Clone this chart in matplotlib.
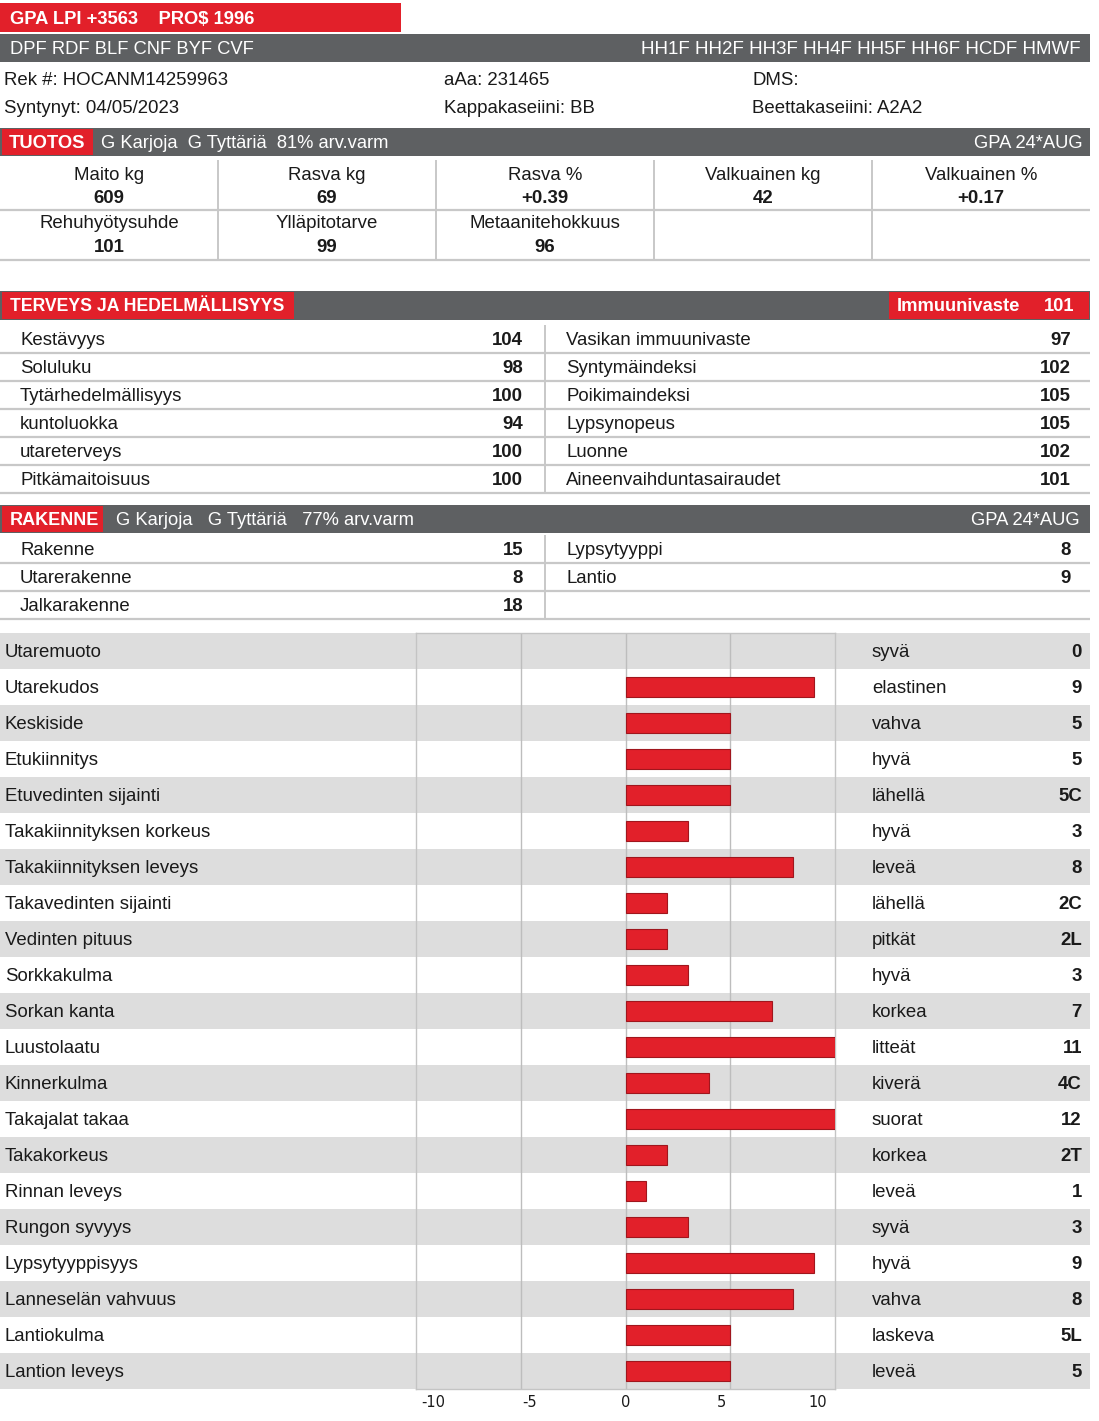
import matplotlib.pyplot as plt
from matplotlib.patches import Rectangle

plt.rcParams['font.family'] = ['Liberation Sans', 'DejaVu Sans']

RED = "#e2202a"
GREY = "#5e6062"
BAND = "#dddddd"
LINE = "#c8c8c8"
INK = "#1a1a1a"

# --- data read from the sheet ---
top_title = "GPA LPI +3563    PRO$ 1996"
haplo_left = "DPF RDF BLF CNF BYF CVF"
haplo_right = "HH1F HH2F HH3F HH4F HH5F HH6F HCDF HMWF"
id_row1 = ["Rek #: HOCANM14259963", "aAa: 231465", "DMS:"]
id_row2 = ["Syntynyt: 04/05/2023", "Kappakaseiini: BB", "Beettakaseiini: A2A2"]

prod_head = "G Karjoja  G Tyttäriä  81% arv.varm"
type_head = "G Karjoja   G Tyttäriä   77% arv.varm"
run_date = "GPA 24*AUG"

prod_labels1 = ["Maito kg", "Rasva kg", "Rasva %", "Valkuainen kg", "Valkuainen %"]
prod_values1 = ["609", "69", "+0.39", "42", "+0.17"]
prod_labels2 = ["Rehuhyötysuhde", "Ylläpitotarve", "Metaanitehokkuus", "", ""]
prod_values2 = ["101", "99", "96", "", ""]

health_left = ["Kestävyys", "Soluluku", "Tytärhedelmällisyys", "kuntoluokka",
               "utareterveys", "Pitkämaitoisuus"]
health_left_vals = [104, 98, 100, 94, 100, 100]
health_right = ["Vasikan immuunivaste", "Syntymäindeksi", "Poikimaindeksi",
                "Lypsynopeus", "Luonne", "Aineenvaihduntasairaudet"]
health_right_vals = [97, 102, 105, 105, 102, 101]
immune_total = 101

type_left = ["Rakenne", "Utarerakenne", "Jalkarakenne"]
type_left_vals = [15, 8, 18]
type_right = ["Lypsytyyppi", "Lantio"]
type_right_vals = [8, 9]

traits = ["Utaremuoto", "Utarekudos", "Keskiside", "Etukiinnitys",
          "Etuvedinten sijainti", "Takakiinnityksen korkeus",
          "Takakiinnityksen leveys", "Takavedinten sijainti", "Vedinten pituus",
          "Sorkkakulma", "Sorkan kanta", "Luustolaatu", "Kinnerkulma",
          "Takajalat takaa", "Takakorkeus", "Rinnan leveys", "Rungon syvyys",
          "Lypsytyyppisyys", "Lanneselän vahvuus", "Lantiokulma", "Lantion leveys"]
trait_values = [0, 9, 5, 5, 5, 3, 8, 2, 2, 3, 7, 11, 4, 12, 2, 1, 3, 9, 8, 5, 5]
trait_desc = ["syvä", "elastinen", "vahva", "hyvä", "lähellä", "hyvä", "leveä",
              "lähellä", "pitkät", "hyvä", "korkea", "litteät", "kiverä", "suorat",
              "korkea", "leveä", "syvä", "hyvä", "vahva", "laskeva", "leveä"]
trait_codes = ["0", "9", "5", "5", "5C", "3", "8", "2C", "2L", "3", "7", "11",
               "4C", "12", "2T", "1", "3", "9", "8", "5L", "5"]
ticks = [-10, -5, 0, 5, 10]

FS = 13.4
DY = 2.5  # matplotlib centres on the full text box, nudge down to the row middle

fig = plt.figure(figsize=(10.99, 14.21), dpi=100)
bg = fig.add_axes([0, 0, 1, 1])
bg.set_xlim(0, 1099)
bg.set_ylim(1421, 0)
bg.axis("off")


def box(x, y, w, h, c):
    bg.add_patch(Rectangle((x, y), w, h, facecolor=c, edgecolor="none"))


def txt(x, y, s, **kw):
    kw.setdefault("color", INK)
    kw.setdefault("fontsize", FS)
    bg.text(x, y + DY, s, va="center", **kw)


def hline(y, x0=0, x1=1090):
    bg.plot([x0, x1], [y, y], color=LINE, lw=1.6, solid_capstyle="butt")


def vline(x, y0, y1):
    bg.plot([x, x], [y0, y1], color=LINE, lw=1.4, solid_capstyle="butt")


# top banner
box(0, 3, 401, 29, RED)
txt(10, 17, top_title, color="white", fontsize=13.2, fontweight="bold")
box(0, 34, 1090, 28, GREY)
txt(10, 47, haplo_left, color="white", fontsize=13.2)
txt(1081, 47, haplo_right, color="white", fontsize=13.5, ha="right")

for x, t in zip([4, 444, 752], id_row1):
    txt(x, 78, t)
for x, t in zip([4, 444, 752], id_row2):
    txt(x, 106, t)

# TUOTOS
box(0, 128, 1090, 28, GREY)
box(2, 129, 91, 26, RED)
txt(9, 141, "TUOTOS", color="white", fontsize=13.2, fontweight="bold")
txt(101, 141, prod_head, color="white", fontsize=13.2)
txt(1083, 141, run_date, color="white", fontsize=13.2, ha="right")

for i in range(5):
    cx = 109 + 218 * i
    txt(cx, 173, prod_labels1[i], ha="center")
    txt(cx, 196, prod_values1[i], ha="center", fontweight="bold")
    txt(cx, 221, prod_labels2[i], ha="center")
    txt(cx, 245, prod_values2[i], ha="center", fontweight="bold")
    if i > 0:
        vline(218 * i, 160, 259)
hline(210)
hline(260)

# TERVEYS
box(0, 291, 1090, 29, GREY)
box(2, 292, 292, 27, RED)
txt(10, 304, "TERVEYS JA HEDELMÄLLISYYS", color="white", fontsize=12.7, fontweight="bold")
box(889, 292, 200, 27, RED)
txt(897, 304, "Immuunivaste", color="white", fontsize=13.2, fontweight="bold")
txt(1074, 304, str(immune_total), color="white", fontsize=13.2, fontweight="bold", ha="right")

for i in range(len(health_left)):
    y = 338 + 28 * i
    txt(20, y, health_left[i])
    txt(523, y, str(health_left_vals[i]), ha="right", fontweight="bold")
    txt(566, y, health_right[i])
    txt(1071, y, str(health_right_vals[i]), ha="right", fontweight="bold")
    hline(353 + 28 * i)
vline(545, 325, 492)

# RAKENNE
box(0, 505, 1090, 28, GREY)
box(2, 506, 101, 26, RED)
txt(10, 518, "RAKENNE", color="white", fontsize=13, fontweight="bold")
txt(116, 518, type_head, color="white", fontsize=13.2)
txt(1080, 518, run_date, color="white", fontsize=13.2, ha="right")

for i in range(len(type_left)):
    y = 548 + 28 * i
    txt(20, y, type_left[i])
    txt(523, y, str(type_left_vals[i]), ha="right", fontweight="bold")
    if i < len(type_right):
        txt(566, y, type_right[i])
        txt(1071, y, str(type_right_vals[i]), ha="right", fontweight="bold")
    hline(563 + 28 * i)
vline(545, 535, 618)

# linear traits table
row_top, row_h = 633, 36
n = len(traits)
for i in range(n):
    y0 = row_top + row_h * i
    if i % 2 == 0:
        box(0, y0, 1090, row_h, BAND)
    yc = y0 + row_h / 2 - 1
    txt(5, yc, traits[i])
    txt(872, yc, trait_desc[i])
    txt(1082, yc, trait_codes[i], ha="right", fontweight="bold")

# bar chart on top of the bands
bottom = row_top + row_h * n
ax = fig.add_axes([416 / 1099, 1 - bottom / 1421, 419 / 1099, row_h * n / 1421])
ax.patch.set_alpha(0)
ax.barh(range(n), trait_values, height=0.54, color=RED, edgecolor="#a0161d",
        linewidth=[0.8 if v else 0 for v in trait_values], zorder=3)
ax.set_xlim(-10, 10)
ax.set_ylim(n - 0.5, -0.5)
for t in ticks[1:-1]:
    ax.axvline(t, color="#bdbdbd", lw=1, zorder=1)
for s in ax.spines.values():
    s.set_color("#c4c4c4")
    s.set_linewidth(1)
ax.set_yticks([])
ax.set_xticks([t * 0.92 for t in ticks])
ax.set_xticklabels([str(t) for t in ticks], family="DejaVu Sans", fontsize=10.5, color=INK)
ax.tick_params(axis="x", length=0, pad=4)

fig.savefig("out.png", dpi=100)
